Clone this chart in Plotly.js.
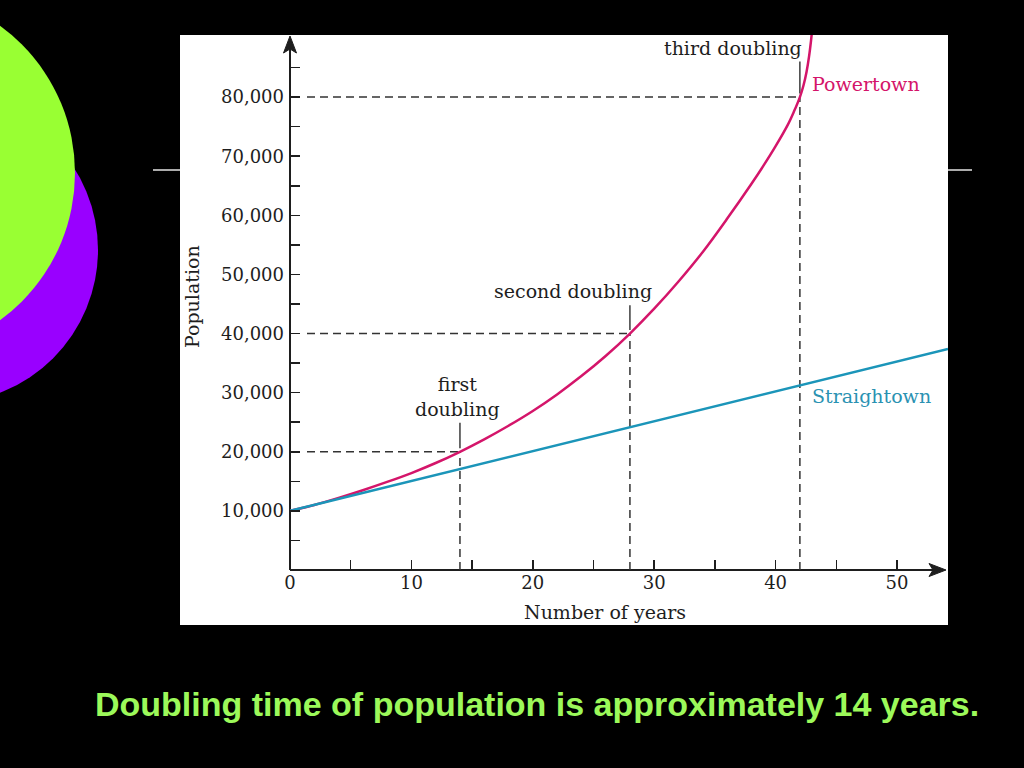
<!DOCTYPE html>
<html>
<head>
<meta charset="utf-8">
<script src="https://cdn.plot.ly/plotly-3.0.1.min.js"></script>
<style>
  html, body { margin: 0; padding: 0; background: #000; }
  #chart { width: 1024px; height: 768px; }
</style>
</head>
<body>
<div id="chart"></div>
<script>
// ---- data ----
const powerYears = [0, 2, 4, 6, 8, 10, 12, 14, 16, 18, 20, 22, 24, 26, 28, 30, 32, 34, 36, 38, 39, 40, 41, 41.5, 42, 42.3, 42.55, 42.75, 42.92, 43.0];
const powerPops  = [10000, 11000, 12200, 13500, 14900, 16400, 18100, 20000, 22100, 24400, 26900, 29700, 32800, 36200, 40000, 44200, 48800, 53800, 59400, 65300, 68400, 71700, 75300, 77500, 80000, 82000, 84300, 86800, 89600, 91200];
const straightYears = [0, 54.2];
const straightPops  = [10000, 37400];
const doublingYears = [14, 28, 42];
const doublingPops  = [20000, 40000, 80000];
const doublingLabelTops = [24900, 44800, 86000];
const xTickVals = [0, 5, 10, 15, 20, 25, 30, 35, 40, 45, 50];
const xTickText = ['0', '', '10', '', '20', '', '30', '', '40', '', '50'];
const yTickVals = [5000, 10000, 15000, 20000, 25000, 30000, 35000, 40000, 45000, 50000, 55000, 60000, 65000, 70000, 75000, 80000, 85000];
const yTickText = ['', '10,000', '', '20,000', '', '30,000', '', '40,000', '', '50,000', '', '60,000', '', '70,000', '', '80,000', ''];
const seriesNames = ['Powertown', 'Straightown'];
const caption = 'Doubling time of population is approximately 14 years.';

// ---- layout geometry (pixels) ----
const L = 290, R = 948, T = 35, B = 570;
const W = 1024, H = 768;
const px = x => (x - L) / (R - L);
const py = y => (B - y) / (B - T);

const serif = 'DejaVu Serif, serif';
const ink = '#1e1e1e';
const pink = '#d4156a';
const teal = '#1b95b9';

const shapes = [];
// decorative slide circles
shapes.push({type: 'circle', xref: 'paper', yref: 'paper', layer: 'below',
  x0: px(-208), x1: px(98), y0: py(403), y1: py(97),
  fillcolor: '#9900ff', line: {width: 0}});
shapes.push({type: 'circle', xref: 'paper', yref: 'paper', layer: 'below',
  x0: px(-289), x1: px(75), y0: py(355), y1: py(-9),
  fillcolor: '#99ff33', line: {width: 0}});
// slide rule line behind chart
shapes.push({type: 'line', xref: 'paper', yref: 'paper', layer: 'below',
  x0: px(153), x1: px(972), y0: py(170), y1: py(170),
  line: {color: '#e6e6e6', width: 1.5}});
// white chart panel
shapes.push({type: 'rect', xref: 'paper', yref: 'paper', layer: 'below',
  x0: px(180), x1: px(948), y0: py(625), y1: py(35),
  fillcolor: '#ffffff', line: {width: 0}});
// axis lines
shapes.push({type: 'line', xref: 'paper', yref: 'paper', layer: 'below',
  x0: px(290), x1: px(936), y0: py(570), y1: py(570), line: {color: ink, width: 2}});
shapes.push({type: 'line', xref: 'paper', yref: 'paper', layer: 'below',
  x0: px(290), x1: px(290), y0: py(570), y1: py(46), line: {color: ink, width: 2}});
// arrow heads
shapes.push({type: 'path', xref: 'paper', yref: 'paper', layer: 'below',
  path: `M${px(946)},${py(570)} L${px(929)},${py(563.5)} L${px(933)},${py(570)} L${px(929)},${py(576.5)} Z`,
  fillcolor: ink, line: {color: ink, width: 1}});
shapes.push({type: 'path', xref: 'paper', yref: 'paper', layer: 'below',
  path: `M${px(290)},${py(36)} L${px(283.5)},${py(53)} L${px(290)},${py(49)} L${px(296.5)},${py(53)} Z`,
  fillcolor: ink, line: {color: ink, width: 1}});
// doubling guides
doublingYears.forEach((yr, i) => {
  shapes.push({type: 'line', xref: 'x', yref: 'y', layer: 'below',
    x0: 1.4, x1: yr, y0: doublingPops[i], y1: doublingPops[i],
    line: {color: '#333333', width: 1.5, dash: '8px,5px'}});
  shapes.push({type: 'line', xref: 'x', yref: 'y', layer: 'below',
    x0: yr, x1: yr, y0: 0, y1: doublingPops[i],
    line: {color: '#333333', width: 1.5, dash: '8px,5px'}});
  shapes.push({type: 'line', xref: 'x', yref: 'y', layer: 'below',
    x0: yr, x1: yr, y0: doublingPops[i] + 600, y1: doublingLabelTops[i],
    line: {color: ink, width: 1.3}});
});

const lblFont = {family: serif, size: 19, color: ink};
const annotations = [
  {xref: 'x', yref: 'y', x: 42.3, y: 88300, xanchor: 'right', yanchor: 'middle',
   text: 'third doubling', showarrow: false, font: lblFont},
  {xref: 'x', yref: 'y', x: 23.3, y: 47200, xanchor: 'center', yanchor: 'middle',
   text: 'second doubling', showarrow: false, font: lblFont},
  {xref: 'x', yref: 'y', x: 13.8, y: 29400, xanchor: 'center', yanchor: 'middle',
   text: 'first<br>doubling', showarrow: false, font: lblFont},
  {xref: 'x', yref: 'y', x: 42.85, y: 82200, xanchor: 'left', yanchor: 'middle',
   text: seriesNames[0], showarrow: false, font: {family: serif, size: 19, color: pink}},
  {xref: 'x', yref: 'y', x: 42.85, y: 29400, xanchor: 'left', yanchor: 'middle',
   text: seriesNames[1], showarrow: false, font: {family: serif, size: 19, color: '#2a92b2'}},
  {xref: 'paper', yref: 'paper', x: px(605), y: py(612), xanchor: 'center', yanchor: 'middle',
   text: 'Number of years', showarrow: false, font: lblFont},
  {xref: 'paper', yref: 'paper', x: px(192), y: py(297), xanchor: 'center', yanchor: 'middle',
   text: 'Population', textangle: -90, showarrow: false, font: lblFont},
  {xref: 'paper', yref: 'paper', x: px(537), y: py(704), xanchor: 'center', yanchor: 'middle',
   text: caption, showarrow: false,
   font: {family: 'Liberation Sans, Arial, sans-serif', size: 34, color: '#9cf95a', weight: 'bold'}}
];

const traces = [
  {x: powerYears, y: powerPops, name: seriesNames[0], mode: 'lines', type: 'scatter',
   line: {color: pink, width: 2.5, shape: 'spline', smoothing: 1}, hoverinfo: 'skip'},
  {x: straightYears, y: straightPops, name: seriesNames[1], mode: 'lines', type: 'scatter',
   line: {color: teal, width: 2.5}, hoverinfo: 'skip'}
];

const layout = {
  width: W, height: H, autosize: false,
  margin: {l: L, r: W - R, t: T, b: H - B, pad: 0},
  paper_bgcolor: '#000000', plot_bgcolor: 'rgba(0,0,0,0)',
  showlegend: false,
  xaxis: {range: [0, 54.2], showgrid: false, zeroline: false, showline: false,
    tickmode: 'array', tickvals: xTickVals, ticktext: xTickText,
    ticks: 'inside', ticklen: 10, tickwidth: 1.5, tickcolor: ink,
    tickfont: {family: serif, size: 18, color: ink}},
  yaxis: {range: [0, 90500], showgrid: false, zeroline: false, showline: false,
    tickmode: 'array', tickvals: yTickVals, ticktext: yTickText,
    ticks: 'inside', ticklen: 10, tickwidth: 1.5, tickcolor: ink,
    ticklabelstandoff: 5,
    tickfont: {family: serif, size: 18, color: ink}},
  shapes: shapes,
  annotations: annotations
};

Plotly.newPlot('chart', traces, layout, {displayModeBar: false, staticPlot: true});
</script>
</body>
</html>
